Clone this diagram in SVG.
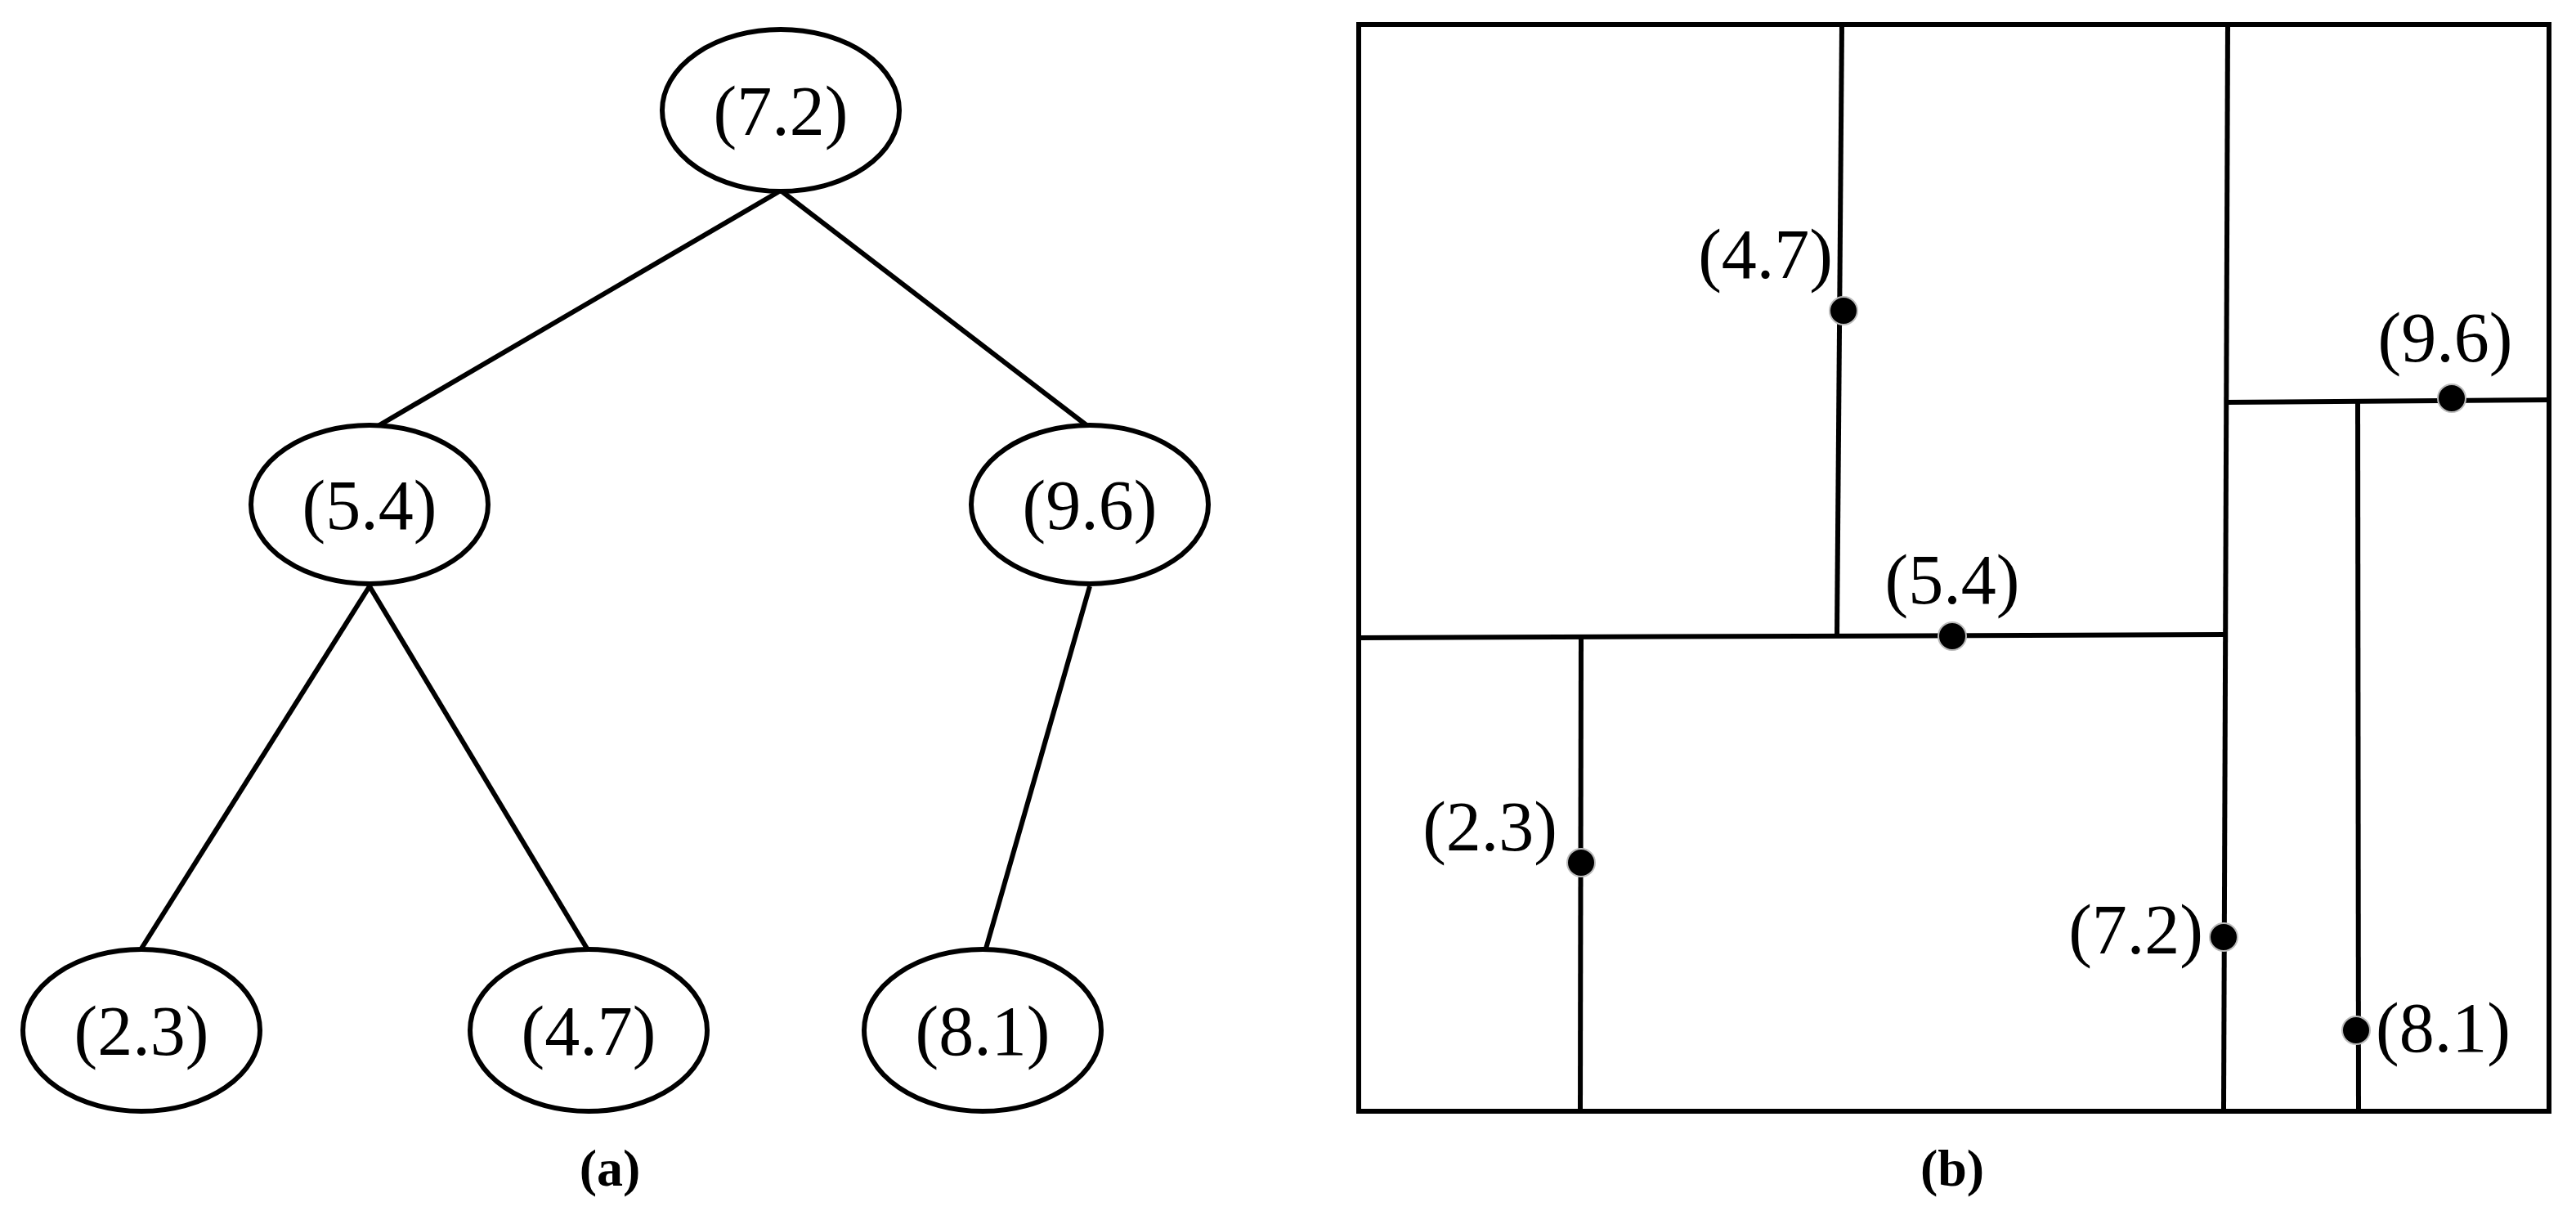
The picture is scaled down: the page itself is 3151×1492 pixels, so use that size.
<svg xmlns="http://www.w3.org/2000/svg" width="3151" height="1492" viewBox="0 0 3151 1492">
<style>
.n{fill:#fff;stroke:#000;stroke-width:6}
.e line,.p line,.p rect{stroke:#000;stroke-width:6;fill:none}
text{font-family:"Liberation Serif",serif;font-size:86px;fill:#000}
.c{text-anchor:middle}
.cap{font-weight:bold;font-size:64px}
.d{fill:#000;stroke:#bbb;stroke-width:2}
</style>
<rect width="3151" height="1492" fill="#fff"/>
<g id="edges" class="e">
<line x1="955" y1="233" x2="452" y2="527"/>
<line x1="955" y1="233" x2="1333" y2="523"/>
<line x1="452" y1="717" x2="173" y2="1160"/>
<line x1="452" y1="717" x2="718" y2="1160"/>
<line x1="1333" y1="717" x2="1206" y2="1160"/>
</g>
<g id="n72"><ellipse class="n" cx="955" cy="135" rx="145" ry="99"/><text class="c" x="955" y="165">(7.2)</text></g>
<g id="n54"><ellipse class="n" cx="452" cy="617" rx="145" ry="97"/><text class="c" x="452" y="647">(5.4)</text></g>
<g id="n96"><ellipse class="n" cx="1333" cy="617" rx="145" ry="97"/><text class="c" x="1333" y="647">(9.6)</text></g>
<g id="n23"><ellipse class="n" cx="173" cy="1260" rx="145" ry="99"/><text class="c" x="173" y="1290">(2.3)</text></g>
<g id="n47"><ellipse class="n" cx="720" cy="1260" rx="145" ry="99"/><text class="c" x="720" y="1290">(4.7)</text></g>
<g id="n81"><ellipse class="n" cx="1202" cy="1260" rx="145" ry="99"/><text class="c" x="1202" y="1290">(8.1)</text></g>
<text class="c cap" x="746" y="1450">(<tspan>a</tspan>)</text>
<g id="panelb" class="p">
<rect x="1662" y="30" width="1456" height="1329"/>
<line x1="2253" y1="30" x2="2247" y2="778"/>
<line x1="1662" y1="780" x2="2722" y2="776"/>
<line x1="2725" y1="30" x2="2720" y2="1359"/>
<line x1="2724" y1="492" x2="3118" y2="489"/>
<line x1="2884" y1="491" x2="2885" y2="1359"/>
<line x1="1934" y1="779" x2="1933" y2="1359"/>
</g>
<g id="dots">
<circle class="d" cx="2255" cy="380" r="17"/>
<circle class="d" cx="2388" cy="778" r="17"/>
<circle class="d" cx="1934" cy="1055" r="17"/>
<circle class="d" cx="2720" cy="1146" r="17"/>
<circle class="d" cx="2882" cy="1260" r="17"/>
<circle class="d" cx="2999" cy="487" r="17"/>
</g>
<g id="labels">
<text x="2242" y="340" text-anchor="end">(4.7)</text>
<text class="c" x="2388" y="738">(5.4)</text>
<text x="1905" y="1040" text-anchor="end">(2.3)</text>
<text x="2695" y="1166" text-anchor="end">(7.2)</text>
<text x="2906" y="1286">(8.1)</text>
<text class="c" x="2991" y="442">(9.6)</text>
</g>
<text class="c cap" x="2388" y="1450">(b)</text>
</svg>
